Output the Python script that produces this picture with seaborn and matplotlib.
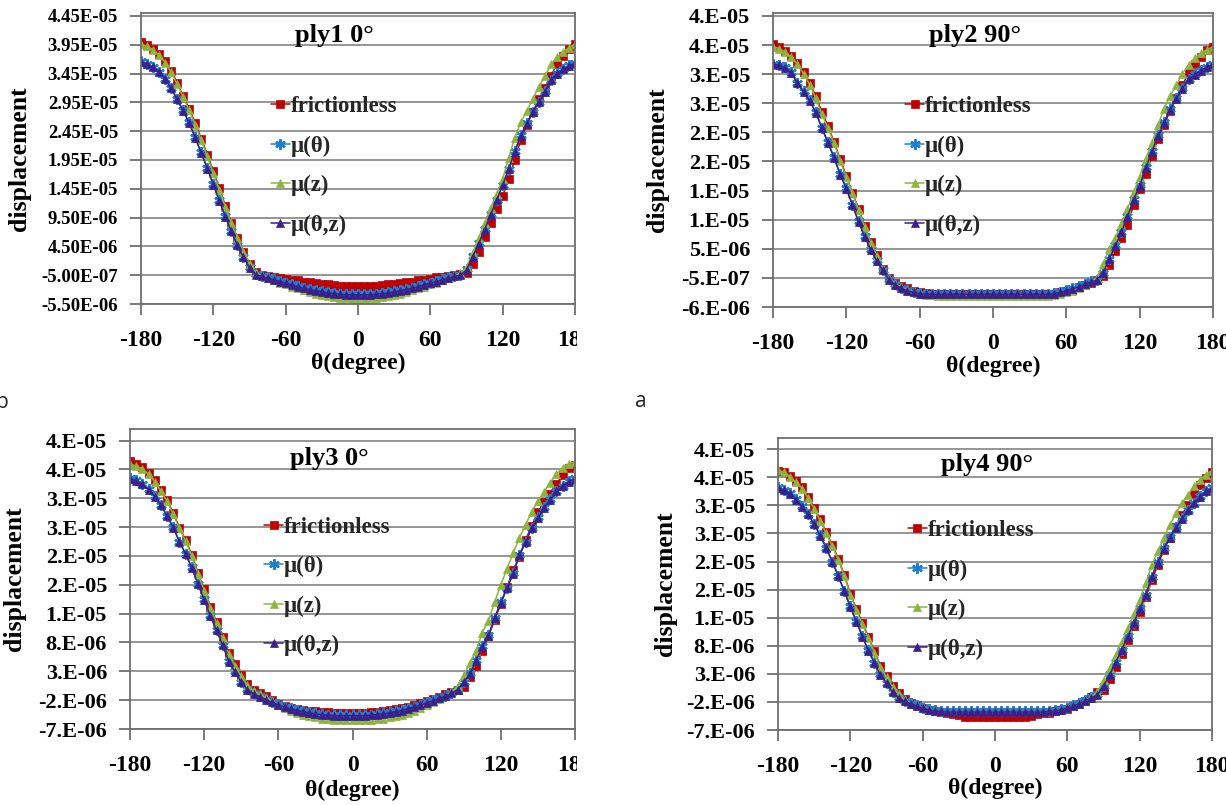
import matplotlib
matplotlib.use("Agg")
import matplotlib.pyplot as plt
from matplotlib.patches import Rectangle
import numpy as np
import pandas as pd
import seaborn as sns

# ---------------- data (displacement in units of 1e-6) ----------------
THETA = list(range(-180, 181, 5))
XTICKS = [-180, -120, -60, 0, 60, 120, 180]
XTICK_LABELS = ["-180", "-120", "-60", "0", "60", "120", "180"]

SERIES = ["frictionless", "μ(θ)", "μ(z)", "μ(θ,z)"]
COLORS = ["#C00000", "#1C7FD6", "#8DB43C", "#3B1F8C"]

# ply1 0°
fr1 = [40.0, 39.5, 38.8, 37.9, 36.6, 35.0, 32.9, 30.6, 28.4, 25.9, 23.2, 20.4, 17.5, 14.6, 11.5, 8.6, 6.0, 3.6, 1.5, 0.0,
       -0.4, -0.6, -0.8, -1.0, -1.1, -1.3, -1.4, -1.6, -1.7, -1.9, -2.0, -2.1, -2.2, -2.3, -2.3, -2.4, -2.4,
       -2.4, -2.3, -2.3, -2.2, -2.1, -2.0, -1.9, -1.7, -1.6, -1.4, -1.3, -1.1, -0.9, -0.8, -0.6, -0.4, -0.3, -0.1,
       1.4, 3.6, 6.2, 8.6, 11.0, 13.2, 16.2, 19.5, 23.0, 25.6, 27.8, 30.0, 32.0, 34.0, 36.2, 37.6, 38.8, 39.6]
mt1 = [36.6, 36.2, 35.7, 34.8, 33.6, 32.0, 30.1, 28.1, 26.0, 23.4, 20.8, 18.1, 15.3, 12.5, 9.7, 7.2, 4.8, 2.7, 0.9, -0.3,
       -0.6, -0.9, -1.2, -1.5, -1.8, -2.1, -2.4, -2.7, -2.9, -3.1, -3.3, -3.5, -3.6, -3.7, -3.8, -3.8, -3.8,
       -3.8, -3.8, -3.7, -3.6, -3.5, -3.3, -3.1, -2.9, -2.7, -2.4, -2.1, -1.8, -1.5, -1.2, -0.9, -0.6, -0.4, 0.5,
       2.8, 5.0, 7.5, 10.1, 12.6, 15.2, 18.0, 21.0, 23.8, 25.9, 27.9, 29.6, 31.4, 33.4, 34.6, 35.3, 35.9, 36.4]
mz1 = [39.6, 39.2, 38.6, 37.7, 36.4, 34.7, 32.7, 30.4, 28.1, 25.6, 22.9, 20.1, 17.2, 14.3, 11.3, 8.5, 5.9, 3.5, 1.4, -0.1,
       -0.6, -1.0, -1.4, -1.8, -2.1, -2.5, -2.8, -3.1, -3.4, -3.7, -3.9, -4.1, -4.3, -4.4, -4.5, -4.6, -4.6,
       -4.6, -4.5, -4.4, -4.3, -4.1, -3.9, -3.7, -3.4, -3.1, -2.8, -2.5, -2.1, -1.8, -1.4, -1.0, -0.6, -0.2, 0.9,
       3.3, 5.9, 8.6, 11.1, 13.6, 16.2, 19.9, 23.3, 26.0, 28.0, 30.1, 32.2, 34.0, 36.1, 37.3, 38.2, 39.0, 39.6]
mtz1 = [36.5, 36.1, 35.6, 34.7, 33.5, 31.9, 30.0, 28.0, 25.9, 23.3, 20.7, 18.0, 15.2, 12.4, 9.6, 7.1, 4.7, 2.6, 0.8, -0.4,
        -0.7, -1.0, -1.3, -1.6, -1.9, -2.2, -2.5, -2.8, -3.0, -3.2, -3.4, -3.6, -3.7, -3.8, -3.9, -3.9, -3.9,
        -3.9, -3.9, -3.8, -3.7, -3.6, -3.4, -3.2, -3.0, -2.8, -2.5, -2.2, -1.9, -1.6, -1.3, -1.0, -0.7, -0.5, 0.4,
        2.7, 4.9, 7.4, 10.0, 12.5, 15.1, 17.9, 20.9, 23.7, 25.8, 27.8, 29.5, 31.3, 33.3, 34.5, 35.2, 35.8, 36.3]

# ply2 90°
fr2 = [39.7, 39.2, 38.5, 37.6, 36.4, 34.9, 33.0, 30.7, 28.0, 25.6, 22.8, 19.9, 17.0, 14.1, 11.4, 8.4, 5.6, 3.4, 1.1, -0.6,
       -1.4, -1.9, -2.3, -2.7, -2.9, -3.1, -3.2, -3.3, -3.3, -3.3, -3.3, -3.3, -3.3, -3.3, -3.3, -3.3, -3.3,
       -3.3, -3.3, -3.3, -3.3, -3.3, -3.3, -3.3, -3.3, -3.3, -3.2, -3.0, -2.8, -2.5, -2.1, -1.7, -1.3, -0.9, -0.1,
       1.8, 4.1, 6.3, 8.6, 12.0, 14.8, 17.4, 20.4, 23.4, 25.8, 28.2, 30.4, 32.6, 34.7, 36.3, 37.5, 38.6, 39.2]
mt2 = [36.3, 36.1, 35.7, 34.8, 33.0, 31.6, 30.0, 28.0, 25.3, 22.8, 20.2, 17.3, 14.9, 12.1, 9.2, 6.7, 4.4, 2.5, 0.9, -0.7,
       -1.6, -2.2, -2.6, -2.9, -3.1, -3.2, -3.2, -3.2, -3.2, -3.2, -3.2, -3.2, -3.2, -3.2, -3.2, -3.2, -3.2,
       -3.2, -3.2, -3.2, -3.2, -3.2, -3.2, -3.2, -3.2, -3.2, -3.1, -2.9, -2.6, -2.3, -1.9, -1.5, -1.1, -0.8, 0.4,
       2.8, 5.1, 7.4, 10.1, 13.0, 15.4, 18.5, 21.3, 24.0, 26.2, 28.5, 30.4, 32.1, 33.7, 34.5, 35.2, 35.8, 36.3]
mz2 = [39.2, 38.9, 38.3, 37.4, 36.2, 34.6, 32.7, 30.4, 27.6, 25.3, 22.6, 19.6, 16.8, 14.0, 11.2, 8.3, 5.5, 3.3, 1.0, -0.7,
       -1.5, -2.1, -2.6, -2.9, -3.2, -3.4, -3.5, -3.6, -3.6, -3.6, -3.6, -3.6, -3.6, -3.6, -3.6, -3.6, -3.6,
       -3.6, -3.6, -3.6, -3.6, -3.6, -3.6, -3.6, -3.6, -3.6, -3.5, -3.3, -3.0, -2.7, -2.3, -1.8, -1.2, -0.5, 1.9,
       4.4, 6.4, 8.7, 11.3, 14.2, 16.9, 20.0, 22.7, 25.8, 28.5, 30.8, 32.6, 34.6, 36.1, 37.2, 38.1, 38.7, 39.2]
mtz2 = [36.2, 36.0, 35.6, 34.7, 32.9, 31.5, 29.9, 27.9, 25.2, 22.7, 20.1, 17.2, 14.8, 12.0, 9.1, 6.6, 4.3, 2.4, 0.8, -0.8,
        -1.7, -2.3, -2.7, -3.0, -3.2, -3.3, -3.3, -3.3, -3.3, -3.3, -3.3, -3.3, -3.3, -3.3, -3.3, -3.3, -3.3,
        -3.3, -3.3, -3.3, -3.3, -3.3, -3.3, -3.3, -3.3, -3.3, -3.2, -3.0, -2.7, -2.4, -2.0, -1.6, -1.2, -0.9, 0.3,
        2.7, 5.0, 7.3, 10.0, 12.9, 15.3, 18.4, 21.2, 23.9, 26.1, 28.4, 30.3, 32.0, 33.6, 34.4, 35.1, 35.7, 36.2]

# ply3 0°
fr3 = [39.4, 38.9, 38.4, 37.4, 36.1, 34.4, 32.7, 30.4, 27.9, 25.8, 23.2, 20.0, 17.2, 14.2, 11.6, 8.9, 6.1, 4.2, 2.4, 0.8,
       -0.2, -0.8, -1.3, -2.0, -2.6, -3.0, -3.3, -3.5, -3.7, -3.8, -3.9, -4.0, -4.1, -4.2, -4.2, -4.2, -4.2,
       -4.2, -4.2, -4.1, -4.0, -3.9, -3.7, -3.5, -3.3, -3.1, -2.8, -2.5, -2.2, -1.8, -1.4, -1.0, -0.6, -0.3, 0.3,
       2.1, 4.0, 6.5, 9.1, 11.9, 14.7, 17.6, 20.5, 22.9, 25.8, 28.2, 30.6, 32.4, 33.8, 35.5, 37.0, 38.3, 38.8]
mt3 = [36.5, 36.1, 35.5, 34.6, 33.4, 31.9, 30.0, 28.0, 25.5, 23.4, 21.0, 18.2, 15.5, 12.7, 10.2, 7.6, 4.8, 3.0, 1.2, -0.1,
       -0.8, -1.3, -1.8, -2.3, -2.7, -3.1, -3.4, -3.7, -3.9, -4.1, -4.3, -4.4, -4.5, -4.6, -4.6, -4.6, -4.6,
       -4.6, -4.6, -4.5, -4.4, -4.3, -4.1, -3.9, -3.7, -3.4, -3.1, -2.8, -2.4, -2.0, -1.6, -1.2, -0.7, -0.1, 1.2,
       2.7, 4.9, 7.4, 9.3, 12.3, 15.0, 17.5, 20.0, 23.2, 25.5, 27.9, 29.7, 31.4, 32.8, 34.3, 35.2, 36.0, 36.5]
mz3 = [38.9, 38.6, 38.1, 37.2, 35.9, 34.2, 32.5, 30.2, 27.8, 25.6, 23.0, 19.8, 17.0, 14.0, 11.4, 8.7, 6.0, 4.0, 2.2, 0.6,
       -0.4, -1.0, -1.6, -2.2, -2.8, -3.3, -3.8, -4.2, -4.5, -4.8, -5.0, -5.2, -5.3, -5.4, -5.5, -5.5, -5.5,
       -5.5, -5.5, -5.4, -5.3, -5.2, -5.0, -4.8, -4.5, -4.2, -3.8, -3.3, -2.8, -2.3, -1.8, -1.3, -0.6, 0.4, 2.4,
       4.4, 6.6, 9.7, 11.8, 15.0, 18.0, 20.8, 23.5, 26.1, 28.4, 30.7, 32.5, 34.1, 35.7, 37.2, 38.3, 39.0, 39.3]
mtz3 = [36.4, 36.0, 35.4, 34.5, 33.3, 31.8, 29.9, 27.9, 25.4, 23.3, 20.9, 18.1, 15.4, 12.6, 10.1, 7.5, 4.7, 2.9, 1.1, -0.2,
        -0.9, -1.4, -1.9, -2.4, -2.8, -3.2, -3.5, -3.8, -4.0, -4.2, -4.4, -4.5, -4.6, -4.7, -4.7, -4.7, -4.7,
        -4.7, -4.7, -4.6, -4.5, -4.4, -4.2, -4.0, -3.8, -3.5, -3.2, -2.9, -2.5, -2.1, -1.7, -1.3, -0.8, -0.2, 1.1,
        2.6, 4.8, 7.3, 9.2, 12.2, 14.9, 17.4, 19.9, 23.1, 25.4, 27.8, 29.6, 31.3, 32.7, 34.2, 35.1, 35.9, 36.4]

# ply4 90°
fr4 = [39.2, 39.0, 38.2, 37.3, 36.2, 34.5, 32.6, 30.5, 28.2, 26.0, 23.5, 20.6, 17.3, 14.6, 12.0, 9.6, 7.0, 4.4, 2.6, 0.8,
       -0.4, -1.5, -2.2, -2.6, -3.1, -3.4, -3.6, -3.8, -3.9, -4.1, -4.4, -4.6, -4.6, -4.6, -4.6, -4.6, -4.6,
       -4.6, -4.6, -4.6, -4.6, -4.6, -4.5, -4.2, -4.0, -3.9, -3.7, -3.5, -3.2, -2.8, -2.4, -1.9, -1.2, -0.3, 0.1,
       2.0, 4.2, 6.6, 9.0, 11.5, 14.0, 16.6, 19.7, 22.3, 25.0, 27.2, 29.2, 31.3, 33.1, 35.0, 36.6, 37.9, 39.0]
mt4 = [36.2, 35.8, 35.2, 34.1, 32.9, 31.5, 29.7, 27.7, 25.5, 23.0, 20.5, 17.8, 15.0, 12.4, 9.7, 7.2, 5.0, 2.9, 1.4, -0.2,
       -1.2, -1.8, -2.2, -2.6, -3.0, -3.3, -3.5, -3.6, -3.7, -3.7, -3.7, -3.7, -3.7, -3.7, -3.7, -3.7, -3.7,
       -3.7, -3.7, -3.7, -3.7, -3.7, -3.7, -3.7, -3.7, -3.6, -3.5, -3.3, -3.0, -2.6, -2.2, -1.7, -1.2, -0.6, 0.9,
       2.9, 5.1, 7.3, 9.7, 12.1, 14.7, 17.1, 20.3, 22.9, 25.4, 27.3, 29.1, 30.7, 32.2, 33.5, 34.6, 35.6, 36.2]
mz4 = [39.3, 38.9, 38.1, 37.1, 36.0, 34.3, 32.4, 30.3, 28.0, 25.8, 23.3, 20.4, 17.1, 14.4, 11.8, 9.4, 6.8, 4.2, 2.4, 0.6,
       -0.6, -1.6, -2.3, -2.7, -3.1, -3.4, -3.6, -3.7, -3.8, -3.8, -3.8, -3.8, -3.8, -3.8, -3.8, -3.8, -3.8,
       -3.8, -3.8, -3.8, -3.8, -3.8, -3.8, -3.8, -3.8, -3.7, -3.6, -3.4, -3.1, -2.7, -2.3, -1.8, -1.1, -0.2, 1.9,
       4.0, 6.3, 8.6, 11.1, 13.6, 16.2, 19.1, 22.4, 24.8, 27.2, 29.5, 31.6, 33.4, 34.9, 36.4, 37.6, 38.5, 39.2]
mtz4 = [36.1, 35.7, 35.1, 34.0, 32.8, 31.4, 29.6, 27.6, 25.4, 22.9, 20.4, 17.7, 14.9, 12.3, 9.6, 7.1, 4.9, 2.8, 1.3, -0.3,
        -1.3, -1.9, -2.3, -2.7, -3.1, -3.4, -3.6, -3.7, -3.8, -3.8, -3.8, -3.8, -3.8, -3.8, -3.8, -3.8, -3.8,
        -3.8, -3.8, -3.8, -3.8, -3.8, -3.8, -3.8, -3.8, -3.7, -3.6, -3.4, -3.1, -2.7, -2.3, -1.8, -1.3, -0.7, 0.8,
        2.8, 5.0, 7.2, 9.6, 12.0, 14.6, 17.0, 20.2, 22.8, 25.3, 27.2, 29.0, 30.6, 32.1, 33.4, 34.5, 35.5, 36.1]

YTICKS_A = [-5.5, -0.5, 4.5, 9.5, 14.5, 19.5, 24.5, 29.5, 34.5, 39.5, 44.5]
YLABELS_1 = ["-5.50E-06", "-5.00E-07", "4.50E-06", "9.50E-06", "1.45E-05", "1.95E-05",
             "2.45E-05", "2.95E-05", "3.45E-05", "3.95E-05", "4.45E-05"]
YLABELS_2 = ["-6.E-06", "-5.E-07", "5.E-06", "1.E-05", "1.E-05", "2.E-05",
             "2.E-05", "3.E-05", "3.E-05", "4.E-05", "4.E-05"]
YTICKS_B = [-7.0, -2.0, 3.0, 8.0, 13.0, 18.0, 23.0, 28.0, 33.0, 38.0, 43.0]
YLABELS_3 = ["-7.E-06", "-2.E-06", "3.E-06", "8.E-06", "1.E-05", "2.E-05",
             "2.E-05", "3.E-05", "3.E-05", "4.E-05", "4.E-05"]
YMAX = 45.0

TITLES = ["ply1 0°", "ply2 90°", "ply3 0°", "ply4 90°"]

for arr in [fr1, mt1, mz1, mtz1, fr2, mt2, mz2, mtz2, fr3, mt3, mz3, mtz3, fr4, mt4, mz4, mtz4]:
    assert len(arr) == len(THETA), len(arr)

# ---------------- styling ----------------
sns.set_theme(style="white")
plt.rcParams["font.family"] = ["Liberation Serif", "DejaVu Serif"]
plt.rcParams["font.weight"] = "bold"
plt.rcParams["axes.labelweight"] = "bold"

W, H = 1226, 805
fig = plt.figure(figsize=(W / 100, H / 100), dpi=100)
fig.patch.set_facecolor("white")


def px_axes(l, t, r, b):
    return fig.add_axes([l / W, 1 - b / H, (r - l) / W, (b - t) / H])


MARKERS = [
    dict(marker="s", markersize=5.4, markeredgewidth=0.5),
    dict(marker=(6, 2, 0), markersize=7.5, markeredgewidth=1.6),
    dict(marker="^", markersize=5.8, markeredgewidth=0.5),
    dict(marker="^", markersize=5.8, markeredgewidth=0.5),
]

panels = [
    dict(box=(141, 13, 575, 304), data=[fr1, mt1, mz1, mtz1], ymin=-5.5, yt=YTICKS_A, yl=YLABELS_1,
         ysize=13.5, title=(0.445, 0.924), leg=(0.300, 0.474), ylab_x=-0.253, xlab_y=-0.168),
    dict(box=(773, 13, 1213, 307), data=[fr2, mt2, mz2, mtz2], ymin=-5.5, yt=YTICKS_A, yl=YLABELS_2,
         ysize=16, title=(0.459, 0.922), leg=(0.301, 0.48), ylab_x=-0.236, xlab_y=-0.167),
    dict(box=(130, 429, 575, 729), data=[fr3, mt3, mz3, mtz3], ymin=-7.0, yt=YTICKS_B, yl=YLABELS_3,
         ysize=16, title=(0.449, 0.903), leg=(0.302, 0.475), ylab_x=-0.234, xlab_y=-0.17),
    dict(box=(778, 438, 1212, 730), data=[fr4, mt4, mz4, mtz4], ymin=-7.0, yt=YTICKS_B, yl=YLABELS_3,
         ysize=16, title=(0.482, 0.908), leg=(0.300, 0.479), ylab_x=-0.233, xlab_y=-0.164),
]

for i, p in enumerate(panels):
    ax = px_axes(*p["box"])
    ax.set_facecolor("white")
    df = pd.DataFrame({"theta": THETA * 4,
                       "disp": sum([list(v) for v in p["data"]], []),
                       "series": sum([[s] * len(THETA) for s in SERIES], [])})
    for name, col, mk in zip(SERIES, COLORS, MARKERS):
        sub = df[df["series"] == name]
        sns.lineplot(data=sub, x="theta", y="disp", ax=ax, color=col, linewidth=1.1,
                     markeredgecolor=col, label=name, legend=False, **mk)
    ax.set_xlim(-180, 180)
    ax.set_ylim(p["ymin"], YMAX)
    ax.set_xticks(XTICKS)
    ax.set_xticklabels(XTICK_LABELS)
    ax.set_yticks(p["yt"])
    ax.set_yticklabels(p["yl"])
    ax.yaxis.grid(True, color="#8C8C8C", linewidth=1.3)
    ax.xaxis.grid(False)
    ax.set_axisbelow(True)
    for s in ax.spines.values():
        s.set_visible(True)
        s.set_color("#6E6E6E")
        s.set_linewidth(1.3)
    ax.tick_params(axis="x", bottom=True, direction="out", length=8, width=1.3, color="#6E6E6E",
                   pad=11, labelsize=17, labelcolor="black")
    ax.tick_params(axis="y", left=True, direction="out", length=8, width=1.3, color="#6E6E6E",
                   pad=8.5, labelsize=p["ysize"], labelcolor="black")
    ax.set_xlabel("θ(degree)", fontsize=17, fontweight="bold", color="black")
    ax.set_ylabel("displacement", fontsize=18.5, fontweight="bold", color="black")
    ax.xaxis.set_label_coords(0.5, p["xlab_y"])
    ax.yaxis.set_label_coords(p["ylab_x"], 0.5)
    ax.text(p["title"][0], p["title"][1], TITLES[i], transform=ax.transAxes, ha="center", va="center",
            fontsize=19, fontweight="bold", color="black")
    leg = ax.legend(loc="center left", bbox_to_anchor=p["leg"], frameon=False, fontsize=16.5,
                    handlelength=0.8, handletextpad=0.05, labelspacing=0.8, borderpad=0,
                    borderaxespad=0, markerscale=1.0)
    for t in leg.get_texts():
        t.set_fontweight("bold")

# crop edge between the left and right panels (labels "180" cut as in the source)
fig.add_artist(Rectangle((577 / W, 0), (634 - 577) / W, 1, transform=fig.transFigure,
                         facecolor="white", edgecolor="none", zorder=10))

# sub-figure letters from the source composite
fig.text(641 / W, 1 - 401 / H, "a", fontsize=15, family=["Open Sans", "DejaVu Sans"],
         fontweight="normal", ha="center", va="center", color="#222222")
fig.text(-5 / W, 1 - 402 / H, "b", fontsize=15, family=["Open Sans", "DejaVu Sans"],
         fontweight="normal", ha="left", va="center", color="#222222")

fig.savefig("out.png", dpi=100, facecolor="white")
